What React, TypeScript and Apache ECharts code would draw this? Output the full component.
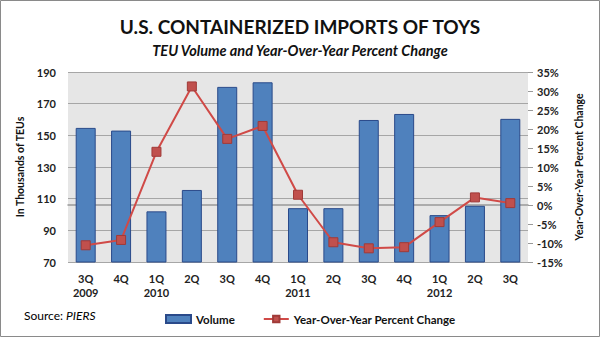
import React, { useEffect, useRef } from "react";
import * as echarts from "echarts";

const categories = ["3Q\n2009", "4Q", "1Q\n2010", "2Q", "3Q", "4Q", "1Q\n2011", "2Q", "3Q", "4Q", "1Q\n2012", "2Q", "3Q"];
const volume = [154.7, 153, 102, 115.5, 180.6, 183.5, 104, 104, 159.7, 163.5, 99.6, 105.5, 160.4];
const yoyChange = [-10.6, -9.2, 14.0, 31.2, 17.4, 20.8, 2.7, -9.8, -11.4, -11.1, -4.5, 2.0, 0.5];

const FONT = "Lato, 'Open Sans', sans-serif";

export default function App() {
  const ref = useRef<HTMLDivElement>(null);
  useEffect(() => {
    document.body.style.margin = "0";
    const chart = echarts.init(ref.current!, null, { renderer: "svg" });
    chart.setOption({
      animation: false,
      backgroundColor: "#ffffff",
      textStyle: { fontFamily: FONT },
      title: [
        {
          text: "U.S. CONTAINERIZED IMPORTS OF TOYS",
          left: "center",
          top: 12,
          textStyle: { fontFamily: FONT, fontSize: 19, fontWeight: "bold", color: "#111" },
        },
        {
          text: "TEU Volume and Year-Over-Year Percent Change",
          left: "center",
          top: 38,
          textStyle: { fontFamily: FONT, fontSize: 14.5, fontWeight: "bold", fontStyle: "italic", color: "#111" },
        },
      ],
      graphic: [
        {
          type: "rect",
          shape: { x: 0.5, y: 0.5, width: 599, height: 336 },
          style: { fill: "none", stroke: "#8a8a8a", lineWidth: 1 },
          silent: true,
        },
        {
          type: "text",
          left: 24,
          top: 309,
          style: {
            text: "{n|Source: }{i|PIERS}",
            rich: {
              n: { fontFamily: FONT, fontSize: 12, color: "#111" },
              i: { fontFamily: FONT, fontSize: 12, fontStyle: "italic", color: "#111" },
            },
          },
        },
      ],
      legend: {
        top: 308,
        left: 160,
        itemGap: 28,
        itemWidth: 25,
        itemHeight: 8,
        textStyle: { fontFamily: FONT, fontSize: 11.5, fontWeight: "bold", color: "#111" },
        data: [
          { name: "Volume", icon: "rect" },
          { name: "Year-Over-Year Percent Change" },
        ],
      },
      grid: {
        left: 68,
        right: 72,
        top: 72,
        bottom: 75,
        show: true,
        backgroundColor: "#e6e6e6",
        borderWidth: 0,
      },
      xAxis: {
        type: "category",
        data: categories,
        axisLine: { lineStyle: { color: "#999", width: 1.5 } },
        axisTick: { show: false },
        axisLabel: {
          fontFamily: FONT,
          fontSize: 11,
          fontWeight: "bold",
          color: "#222",
          lineHeight: 14,
          margin: 9,
        },
      },
      yAxis: [
        {
          type: "value",
          min: 70,
          max: 190,
          interval: 20,
          name: "In Thousands of TEUs",
          nameLocation: "middle",
          nameGap: 37,
          nameTextStyle: { fontFamily: FONT, fontSize: 10.5, fontWeight: "bold", color: "#111" },
          axisLine: { show: false },
          axisTick: { show: false },
          axisLabel: { fontFamily: FONT, fontSize: 11, fontWeight: "bold", color: "#222", margin: 12 },
          splitLine: { lineStyle: { color: "#a6a6a6", width: 1.2 } },
        },
        {
          type: "value",
          min: -15,
          max: 35,
          interval: 5,
          position: "right",
          name: "Year-Over-Year Percent Change",
          nameLocation: "middle",
          nameGap: 44,
          nameRotate: 90,
          nameTextStyle: { fontFamily: FONT, fontSize: 10.5, fontWeight: "bold", color: "#111" },
          axisLine: { show: false },
          axisTick: { show: true, length: 5, lineStyle: { color: "#999" } },
          axisLabel: {
            fontFamily: FONT,
            fontSize: 11,
            fontWeight: "bold",
            color: "#222",
            margin: 9,
            formatter: (v: number) => `${v}%`,
          },
          splitLine: { show: false },
        },
      ],
      series: [
        {
          name: "Volume",
          type: "bar",
          yAxisIndex: 0,
          data: volume,
          barWidth: 20,
          itemStyle: { color: "#4f81bd", borderColor: "#2a4a8a", borderWidth: 1 },
        },
        {
          name: "Year-Over-Year Percent Change",
          type: "line",
          yAxisIndex: 1,
          data: yoyChange,
          symbol: "rect",
          symbolSize: 9,
          lineStyle: { color: "#d04a47", width: 2 },
          itemStyle: { color: "#c0504d", borderColor: "#a03a38", borderWidth: 1 },
        },
      ],
    });
    return () => chart.dispose();
  }, []);
  return <div ref={ref} style={{ width: 600, height: 337 }} />;
}
